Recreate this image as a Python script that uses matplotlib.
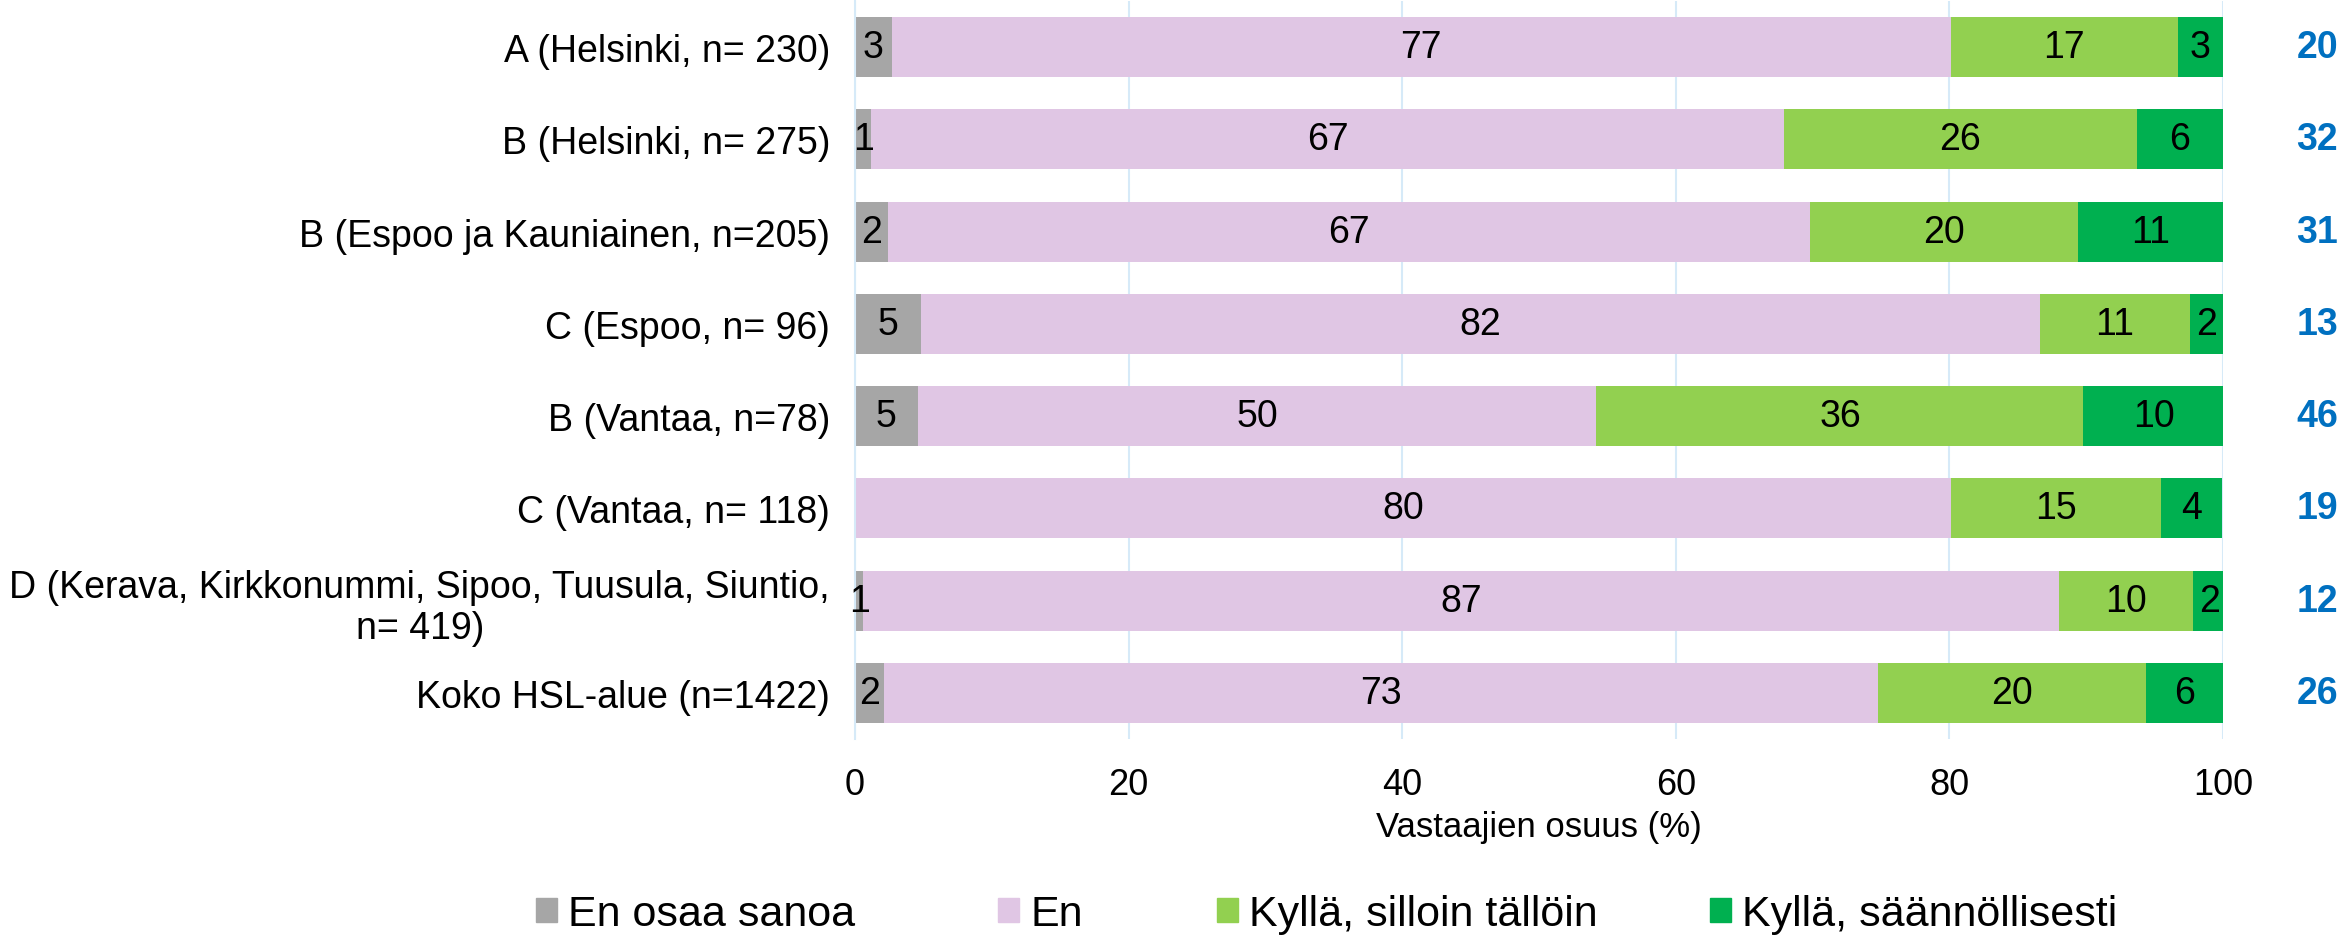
import matplotlib
matplotlib.use("Agg")
import matplotlib.pyplot as plt
from matplotlib.patches import Patch
import numpy as np

plt.rcParams['font.family'] = ['Liberation Sans', 'DejaVu Sans']

categories = [
    "A (Helsinki, n= 230)",
    "B (Helsinki, n= 275)",
    "B (Espoo ja Kauniainen, n=205)",
    "C (Espoo, n= 96)",
    "B (Vantaa, n=78)",
    "C (Vantaa, n= 118)",
    "D (Kerava, Kirkkonummi, Sipoo, Tuusula, Siuntio,\nn= 419)",
    "Koko HSL-alue (n=1422)",
]
en_osaa_sanoa = [2.7, 1.2, 2.4, 4.8, 4.6, 0.0, 0.6, 2.1]
en = [77.4, 66.7, 67.4, 81.8, 49.6, 80.1, 87.4, 72.7]
kylla_silloin = [16.6, 25.8, 19.6, 11.0, 35.6, 15.4, 9.8, 19.6]
kylla_saann = [3.3, 6.3, 10.6, 2.4, 10.3, 4.4, 2.4, 5.6]
kylla_yht = [20, 32, 31, 13, 46, 19, 12, 26]

series = [
    ("En osaa sanoa", en_osaa_sanoa, "#a6a6a6"),
    ("En", en, "#e0c6e4"),
    ("Kyllä, silloin tällöin", kylla_silloin, "#92d050"),
    ("Kyllä, säännöllisesti", kylla_saann, "#00b050"),
]

fig = plt.figure(figsize=(23.46, 9.37), dpi=100)
ax = fig.add_axes([855 / 2346, 1 - 740 / 937, 1368 / 2346, 738 / 937])

y = np.arange(len(categories))
left = np.zeros(len(categories))
for name, vals, color in series:
    vals = np.array(vals)
    bars = ax.barh(y, vals, left=left, height=0.65, color=color, label=name, zorder=2)
    for b, v in zip(bars, vals):
        if v > 0:
            ax.text(b.get_x() + b.get_width() / 2, b.get_y() + b.get_height() / 2,
                    f"{round(v):d}", ha='center', va='center', fontsize=27, zorder=3)
    left += vals

# "Kyllä yhteensä" column on the right
for yi, tot in zip(y, kylla_yht):
    ax.text(106.9, yi, str(tot), ha='center', va='center', fontsize=27,
            fontweight='bold', color='#0070c0', clip_on=False)

ax.set_xlim(0, 100)
ax.set_ylim(len(categories) - 0.5, -0.5)
ax.set_xticks(range(0, 101, 20))
ax.set_yticks(y)
ax.set_yticklabels(categories, fontsize=27, ha='right', multialignment='center')
ax.tick_params(axis='both', length=0)
ax.tick_params(axis='x', labelsize=26, pad=20)
ax.tick_params(axis='y', pad=18)
ax.grid(axis='x', color='#d6eaf8', linewidth=1.5, zorder=0)
for s in ['top', 'right', 'bottom']:
    ax.spines[s].set_visible(False)
ax.spines['left'].set_color('#d6eaf8')
ax.spines['left'].set_linewidth(1.5)
ax.set_xlabel("Vastaajien osuus (%)", fontsize=25, labelpad=6)

# legend entries placed one by one, like the original
legend_x = [543, 1005, 1224, 1717]
for (name, vals, color), lx in zip(series, legend_x):
    fig.legend([Patch(color=color)], [name], loc='center left',
               bbox_to_anchor=(lx / 2346 - 0.003, 0.023), frameon=False,
               fontsize=31, handlelength=0.5, handleheight=0.5,
               handletextpad=0.25, borderaxespad=0, borderpad=0)

fig.savefig("out.png", dpi=100)
